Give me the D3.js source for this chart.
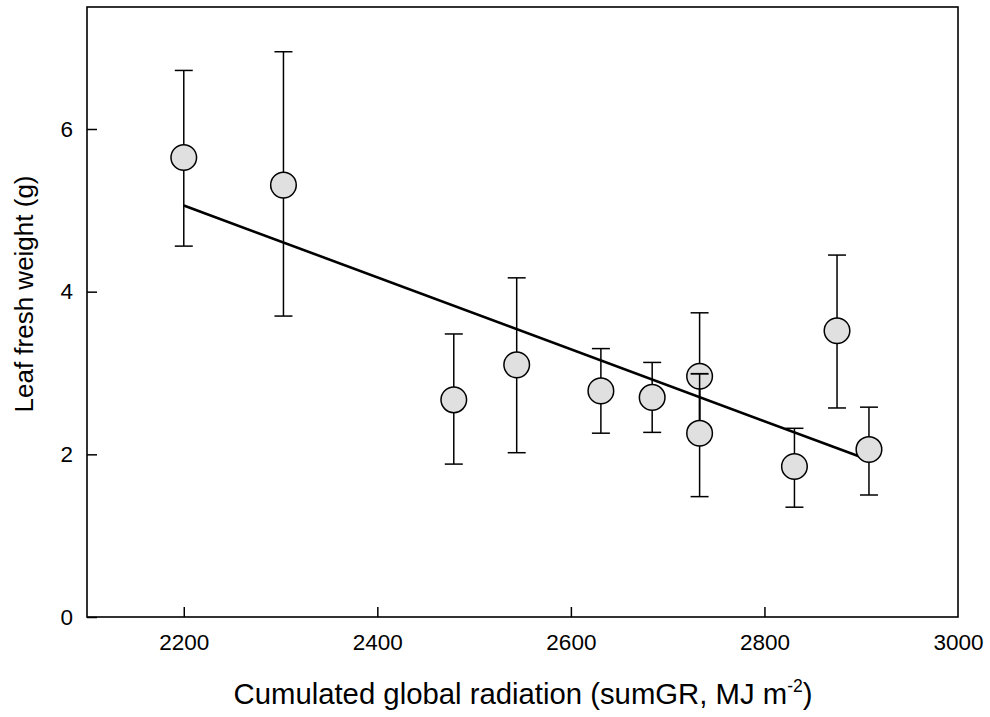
<!DOCTYPE html>
<html><head><meta charset="utf-8">
<script src="https://cdn.jsdelivr.net/npm/d3@7"></script>
<style>body{margin:0;background:#fff}svg{display:block}text{font-family:"Liberation Sans",Arial,sans-serif;fill:#000}</style>
</head><body><svg id="c" width="990" height="717"></svg>
<script>
const radiation = [2200, 2303, 2479, 2544, 2631, 2684, 2733, 2733, 2831, 2875, 2908];
const weight    = [5.65, 5.31, 2.67, 3.10, 2.78, 2.70, 2.96, 2.26, 1.85, 3.52, 2.06];
const errLow    = [4.56, 3.70, 1.88, 2.02, 2.26, 2.27, 2.18, 1.48, 1.35, 2.57, 1.50];
const errHigh   = [6.72, 6.95, 3.48, 4.17, 3.30, 3.13, 3.74, 2.99, 2.32, 4.45, 2.58];
const fitX = [2200, 2908];
const fitY = [5.06, 1.93];
const xTicks = [2200, 2400, 2600, 2800, 3000];
const yTicks = [0, 2, 4, 6];

const svg = d3.select("#c");
const L = 87, R = 958, T = 7, B = 617;
const x = d3.scaleLinear().domain([2100, 3000]).range([L, R]);
const y = d3.scaleLinear().domain([0, 7.5]).range([B, T]);

// axes
const xa = svg.append("g").attr("transform", `translate(0,${B})`)
  .call(d3.axisBottom(x).tickValues(xTicks).tickFormat(d3.format("d")).tickSizeInner(-10).tickSizeOuter(0).tickPadding(17));
const ya = svg.append("g").attr("transform", `translate(${L},0)`)
  .call(d3.axisLeft(y).tickValues(yTicks).tickFormat(d3.format("d")).tickSizeInner(-10).tickSizeOuter(0).tickPadding(14));
[xa, ya].forEach(g => {
  g.attr("font-size", 22.5).attr("font-family", "Liberation Sans, Arial, sans-serif");
  g.select(".domain").remove();
  g.selectAll("line").attr("stroke", "#000").attr("stroke-width", 1.5);
  g.selectAll("text").attr("fill", "#000");
});
xa.selectAll(".tick").filter(d => d === 3000).select("line").remove();

// frame
svg.append("rect").attr("x", L).attr("y", T).attr("width", R - L).attr("height", B - T)
  .attr("fill", "none").attr("stroke", "#000").attr("stroke-width", 1.6);

// regression line
svg.append("line").attr("x1", x(fitX[0])).attr("y1", y(fitY[0])).attr("x2", x(fitX[1])).attr("y2", y(fitY[1]))
  .attr("stroke", "#000").attr("stroke-width", 2.6);

// error bars
const idx = d3.range(radiation.length);
const eb = svg.append("g").attr("stroke", "#000").attr("stroke-width", 1.5);
idx.forEach(i => {
  eb.append("line").attr("x1", x(radiation[i])).attr("x2", x(radiation[i])).attr("y1", y(errLow[i])).attr("y2", y(errHigh[i]));
  [errLow[i], errHigh[i]].forEach(v => eb.append("line").attr("x1", x(radiation[i]) - 9).attr("x2", x(radiation[i]) + 9).attr("y1", y(v)).attr("y2", y(v)));
});

// points
svg.append("g").selectAll("circle").data(idx).join("circle")
  .attr("cx", i => x(radiation[i])).attr("cy", i => y(weight[i])).attr("r", 12.8)
  .attr("fill", "#e0e0e0").attr("stroke", "#000").attr("stroke-width", 1.5);
// upper error of the lower overlapping point drawn over the upper circle
svg.append("line").attr("x1", x(radiation[7]) - 9).attr("x2", x(radiation[7]) + 9)
  .attr("y1", y(errHigh[7])).attr("y2", y(errHigh[7])).attr("stroke", "#000").attr("stroke-width", 1.8);
svg.append("line").attr("x1", x(radiation[7])).attr("x2", x(radiation[7]))
  .attr("y1", y(errHigh[7])).attr("y2", y(weight[7]) - 12.8).attr("stroke", "#000").attr("stroke-width", 1.5);

// axis titles
const xt = svg.append("text").attr("x", 523).attr("y", 704).attr("text-anchor", "middle").attr("font-size", 29.3);
xt.append("tspan").text("Cumulated global radiation (sumGR, MJ m");
xt.append("tspan").attr("font-size", 17.5).attr("dy", -12).text("-2");
xt.append("tspan").attr("dy", 12).text(")");

svg.append("text").attr("transform", `translate(33,294) rotate(-90)`)
  .attr("text-anchor", "middle").attr("font-size", 26).text("Leaf fresh weight (g)");
</script></body></html>
